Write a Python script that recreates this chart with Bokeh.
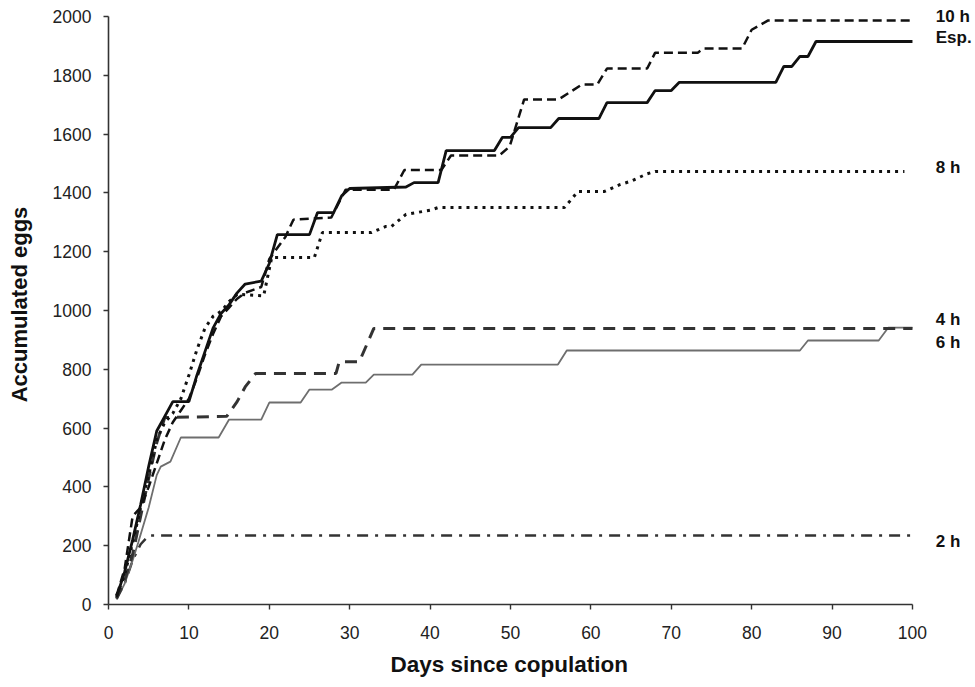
from bokeh.plotting import figure
from bokeh.models import Range1d, FixedTicker, Title, ColumnDataSource
from bokeh.core.properties import value
from bokeh.embed import file_html
from bokeh.resources import INLINE

# ---- data ----
esp_days = [1, 2, 3, 4, 5, 6, 7, 8, 10, 11, 12, 13, 14, 15, 16, 17, 19, 20, 21, 25, 26, 28, 29, 30,
            37, 38, 41, 42, 48, 49, 50, 51, 55, 56, 61, 62, 67, 68, 70, 71, 83, 84, 85, 86, 87, 88, 100]
esp_eggs = [25, 110, 220, 340, 470, 590, 640, 690, 690, 780, 860, 940, 990, 1020, 1060, 1090,
            1100, 1160, 1258, 1258, 1333, 1333, 1390, 1415, 1420, 1435, 1435, 1544, 1544, 1589,
            1589, 1622, 1622, 1653, 1653, 1707, 1707, 1748, 1748, 1776, 1776, 1830, 1830, 1864,
            1864, 1915, 1915]

tenh_days = [1, 2, 3, 4, 5, 6, 7, 8, 9, 10, 11, 12, 13, 14, 15, 16, 17, 18, 19, 20, 22, 23,
             27.7, 29.5, 35.5, 36.8, 41.4, 42.6, 48.6, 49.9, 51.7, 56, 58.9, 60.8, 62, 67, 68,
             73.3, 74, 78.8, 80, 82, 100]
tenh_eggs = [30, 120, 300, 330, 400, 480, 560, 620, 660, 700, 770, 850, 920, 980, 1010, 1040,
             1060, 1070, 1080, 1175, 1250, 1309, 1316, 1411, 1411, 1478, 1478, 1527, 1527, 1558,
             1718, 1718, 1769, 1769, 1823, 1823, 1877, 1877, 1891, 1891, 1955, 1986, 1986]

eight_days = [1, 2, 3, 4, 5, 6, 7, 8, 9, 10, 11, 12, 13, 14, 15, 16, 19.3, 20.3, 25.6, 26.6,
              32.7, 34.5, 35.2, 37, 40, 41, 56.7, 58.4, 61.7, 63.6, 65, 67, 68, 99]
eight_eggs = [30, 100, 210, 330, 440, 560, 620, 650, 700, 780, 867, 940, 980, 997, 1030, 1055,
              1050, 1180, 1180, 1265, 1265, 1286, 1286, 1327, 1341, 1350, 1350, 1405, 1405,
              1428, 1440, 1465, 1473, 1473]

four_days = [1, 2, 3, 4, 5, 6, 7, 14.7, 16, 17, 18.3, 28.3, 28.7, 31.2, 33, 100]
four_eggs = [20, 80, 170, 300, 430, 550, 636, 640, 690, 740, 786, 786, 826, 826, 939, 939]

six_days = [1, 2, 3, 3.7, 5, 6, 6.5, 7.7, 9, 13.7, 15, 19, 20, 23.9, 25, 27.8, 29, 32, 33,
            37.8, 38.9, 55.9, 57, 86, 87, 95.8, 97, 100]
six_eggs = [17, 70, 150, 211, 330, 440, 469, 486, 568, 568, 629, 629, 687, 687, 731, 731, 755,
            755, 782, 782, 816, 816, 864, 864, 898, 898, 942, 942]

two_days = [1, 2, 3, 4, 5, 100]
two_eggs = [20, 70, 150, 205, 235, 235]

series_names = ["10 h", "Esp.", "8 h", "4 h", "6 h", "2 h"]
label_y = [2000, 1929, 1486, 969, 891, 214]
label_x = [102.9] * len(series_names)

x_ticks = list(range(0, 101, 10))
y_ticks = list(range(0, 2001, 200))

FONT = "Liberation Sans"

p = figure(width=975, height=687, x_range=Range1d(0, 107.84), y_range=Range1d(0, 2040.8),
           output_backend="svg", toolbar_location=None,
           min_border_left=108, min_border_right=0, min_border_top=4, min_border_bottom=83)
p.outline_line_color = None
p.background_fill_color = "white"
p.border_fill_color = "white"
p.grid.visible = False

p.xaxis.ticker = FixedTicker(ticks=x_ticks)
p.yaxis.ticker = FixedTicker(ticks=y_ticks)
p.yaxis.bounds = (0, 2000)
p.xaxis.bounds = (0, 100)

for ax in (p.xaxis, p.yaxis):
    ax.axis_line_color = "#333333"
    ax.axis_line_width = 1.6
    ax.major_tick_line_color = "#333333"
    ax.major_tick_line_width = 1.4
    ax.major_tick_out = 5
    ax.major_tick_in = 0
    ax.minor_tick_line_color = None
    ax.major_label_text_font = FONT
    ax.major_label_text_font_size = "17.5px"
    ax.major_label_text_color = "#222222"
    ax.axis_label_text_font = FONT
    ax.axis_label_text_font_style = "bold"
    ax.axis_label_text_font_size = "22px"
    ax.axis_label_text_color = "#111111"

p.yaxis.axis_label = "Accumulated eggs"
p.xaxis.major_label_standoff = 16
p.yaxis.major_label_standoff = 12
p.yaxis.axis_label_standoff = 18

p.add_layout(Title(text="Days since copulation", align="left", offset=282, standoff=16,
                   text_font=FONT, text_font_style="bold", text_font_size="22.5px",
                   text_color="#111111"), "below")

p.line(two_days, two_eggs, line_color="#333333", line_width=2.5, line_dash="11 7 3 7")
p.line(six_days, six_eggs, line_color="#6e6e6e", line_width=1.8)
p.line(four_days, four_eggs, line_color="#333333", line_width=3, line_dash="12 8")
p.line(eight_days, eight_eggs, line_color="#111111", line_width=3, line_dash="3 5")
p.line(tenh_days, tenh_eggs, line_color="#111111", line_width=2.5, line_dash="9 5")
p.line(esp_days, esp_eggs, line_color="#111111", line_width=2.8)

src = ColumnDataSource(dict(x=label_x, y=label_y, t=series_names))
p.text(x="x", y="y", text="t", source=src, text_font=value(FONT), text_font_style="bold",
       text_font_size="17px", text_color="#111111", text_align="left", text_baseline="middle")

open("out.html", "w").write(file_html(p, INLINE))
